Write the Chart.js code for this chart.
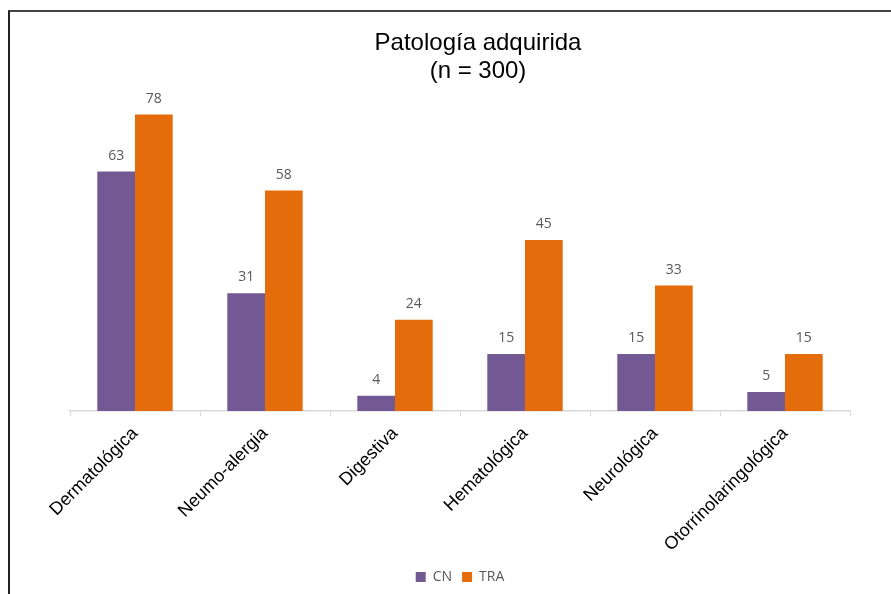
<!DOCTYPE html>
<html lang="es">
<head>
    <meta charset="UTF-8">
    <title>Patología adquirida</title>
    <script src="https://cdn.jsdelivr.net/npm/chart.js"></script>
    <style>
        body { margin: 0; background: #fff; }
        .marco {
            position: absolute; left: 8px; top: 10px; right: -4px; bottom: -4px;
            border-left: 2px solid #222; border-top: 2px solid #444;
            pointer-events: none;
        }
        .grafica { position: absolute; left: 0; top: 0; width: 891px; height: 594px; }
    </style>
</head>
<body>
    <div class="grafica"><canvas id="patologiaChart" width="891" height="594"></canvas></div>
    <div class="marco"></div>

    <script>
        // Datos
        const categorias = ['Dermatológica', 'Neumo-alergia', 'Digestiva', 'Hematológica', 'Neurológica', 'Otorrinolaringológica'];
        const valoresCN = [63, 31, 4, 15, 15, 5];
        const valoresTRA = [78, 58, 24, 45, 33, 15];
        const tituloLineas = ['Patología adquirida', '(n = 300)'];

        // Título dibujado a mano (va un poco a la derecha del centro)
        const tituloPlugin = {
            id: 'tituloPlugin',
            afterDraw(chart) {
                const ctx = chart.ctx;
                ctx.save();
                ctx.fillStyle = '#000';
                ctx.font = '24px "Liberation Sans", Arial, sans-serif';
                ctx.textAlign = 'center';
                ctx.textBaseline = 'middle';
                ctx.fillText(tituloLineas[0], 478, 43);
                ctx.fillText(tituloLineas[1], 478, 71);
                ctx.restore();
            }
        };

        // Etiquetas de valor encima de cada barra
        const etiquetasPlugin = {
            id: 'etiquetasPlugin',
            afterDatasetsDraw(chart) {
                const ctx = chart.ctx;
                ctx.save();
                ctx.fillStyle = '#595959';
                ctx.font = '14px "Open Sans", sans-serif';
                ctx.textAlign = 'center';
                ctx.textBaseline = 'alphabetic';
                chart.data.datasets.forEach((ds, i) => {
                    chart.getDatasetMeta(i).data.forEach((bar, j) => {
                        ctx.fillText(ds.data[j], bar.x, bar.y - 12);
                    });
                });
                ctx.restore();
            }
        };

        new Chart(document.getElementById('patologiaChart'), {
            type: 'bar',
            data: {
                labels: categorias,
                datasets: [
                    { label: 'CN', data: valoresCN, backgroundColor: '#735994', barPercentage: 1, categoryPercentage: 0.58 },
                    { label: 'TRA', data: valoresTRA, backgroundColor: '#E46C0A', barPercentage: 1, categoryPercentage: 0.58 }
                ]
            },
            options: {
                responsive: false,
                animation: false,
                layout: { padding: { left: 70, right: 41, top: 107, bottom: 0 } },
                plugins: {
                    title: { display: false },
                    tooltip: { enabled: false },
                    legend: {
                        position: 'bottom',
                        labels: {
                            boxWidth: 10, boxHeight: 10, padding: 10,
                            color: '#595959',
                            font: { size: 14, family: '"Open Sans", sans-serif' }
                        }
                    }
                },
                scales: {
                    x: {
                        grid: { drawOnChartArea: false, drawTicks: true, tickLength: 5, color: '#d9d9d9', offset: true },
                        border: { color: '#d9d9d9', width: 1.5 },
                        ticks: {
                            minRotation: 45, maxRotation: 45, padding: 7,
                            color: '#000',
                            font: { size: 18, family: '"Liberation Sans", Arial, sans-serif' }
                        },
                        afterFit(scale) { scale.height = 149; }
                    },
                    y: { display: false, min: 0, max: 80 }
                }
            },
            plugins: [tituloPlugin, etiquetasPlugin]
        });
    </script>
</body>
</html>
